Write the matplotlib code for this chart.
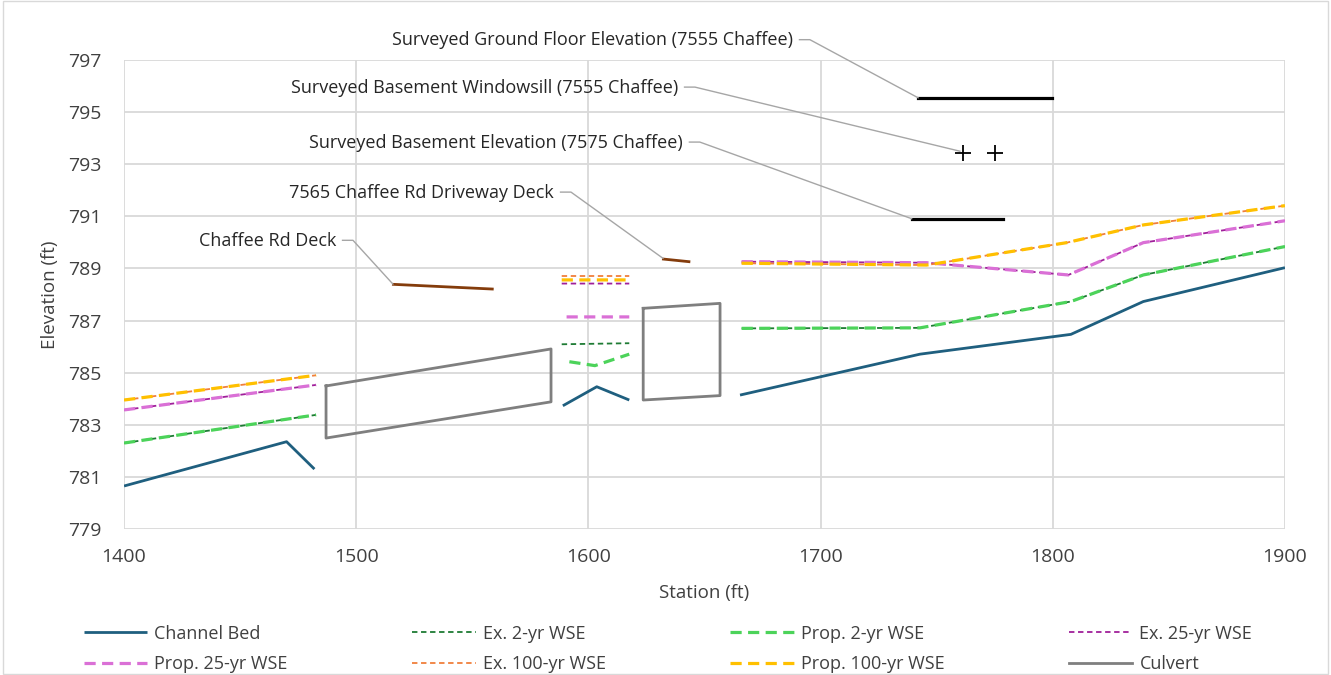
import numpy as np
import matplotlib
matplotlib.use("Agg")
import matplotlib.pyplot as plt
from matplotlib.patches import Rectangle

plt.rcParams['font.family'] = ['Open Sans', 'DejaVu Sans']

nan = np.nan

# perfil (estacao em ft, elevacao em ft); nan separa trechos
bed_sta = [1400, 1470, 1482, nan, 1589, 1603.6, 1617.6, nan, 1665.3, 1742.8, 1807.8, 1839, 1900]
bed_elev = [780.65, 782.35, 781.3, nan, 783.73, 784.46, 783.95, nan, 784.14, 785.71, 786.47, 787.73, 789.03]

p2_sta = [1400, 1482.7, nan, 1591.8, 1602.8, 1617.6, nan, 1666, 1742.8, 1807.8, 1839, 1900]
p2_elev = [782.3, 783.38, nan, 785.42, 785.27, 785.71, nan, 786.7, 786.72, 787.73, 788.75, 789.84]
e2_sta = [1400, 1482.7, nan, 1588.5, 1617.6, nan, 1666, 1742.8, 1807.8, 1839, 1900]
e2_elev = [782.3, 783.38, nan, 786.09, 786.13, nan, 786.7, 786.72, 787.73, 788.75, 789.84]

p25_sta = [1400, 1482.7, nan, 1590.6, 1617.6, nan, 1666, 1745.7, 1806.7, 1839, 1900]
p25_elev = [783.57, 784.53, nan, 787.14, 787.14, nan, 789.26, 789.22, 788.75, 789.99, 790.83]
e25_sta = [1400, 1482.7, nan, 1588.5, 1617.6, nan, 1666, 1745.7, 1806.7, 1839, 1900]
e25_elev = [783.57, 784.53, nan, 788.42, 788.42, nan, 789.26, 789.22, 788.75, 789.99, 790.83]

p100_sta = [1400, 1482.7, nan, 1588.5, 1617.6, nan, 1666, 1745.7, 1806, 1839, 1900]
p100_elev = [783.95, 784.9, nan, 788.56, 788.56, nan, 789.2, 789.13, 789.99, 790.67, 791.41]
e100_sta = [1400, 1482.7, nan, 1588.5, 1617.6, nan, 1666, 1745.7, 1806, 1839, 1900]
e100_elev = [783.95, 784.9, nan, 788.71, 788.71, nan, 789.2, 789.13, 789.99, 790.67, 791.41]

culv_sta = [1487, 1487, 1583.9, 1583.9, 1487, nan, 1623.6, 1623.6, 1656.7, 1656.7, 1623.6]
culv_elev = [784.49, 782.49, 783.88, 785.91, 784.49, nan, 787.47, 783.95, 784.12, 787.66, 787.47]

deck_sta = [1516, 1558.6]
deck_elev = [788.39, 788.21]
drive_sta = [1632.3, 1643.3]
drive_elev = [789.36, 789.26]

floor_sta = [1742, 1799.8]
floor_elev = [795.55, 795.55]
bsmt_sta = [1739.2, 1778.7]
bsmt_elev = [790.91, 790.91]
sill_sta = [1761.5, 1775.1]
sill_elev = [793.44, 793.44]

# rotulos: texto, posicao do texto, ponto final da linha guia
labels = [
    ("Surveyed Ground Floor Elevation (7555 Chaffee)", (1688.1, 797.75), (1742, 795.55)),
    ("Surveyed Basement Windowsill (7555 Chaffee)", (1638.6, 795.93), (1760, 793.5)),
    ("Surveyed Basement Elevation (7575 Chaffee)", (1640.7, 793.82), (1739.2, 790.91)),
    ("7565 Chaffee Rd Driveway Deck", (1585.2, 791.9), (1632.1, 789.39)),
    ("Chaffee Rd Deck", (1491.3, 790.05), (1515.8, 788.4)),
]

fig = plt.figure(figsize=(13.31, 6.75), dpi=100)
ax = fig.add_axes([0.0932, 0.2163, 0.8722, 0.6948])

ax.plot(bed_sta, bed_elev, color='#1F5F7F', lw=2.0, label="Channel Bed", solid_capstyle='butt')
ax.plot(e2_sta, e2_elev, color='#1E7B34', lw=1.3, dashes=(3, 2), label="Ex. 2-yr WSE")
ax.plot(p2_sta, p2_elev, color='#4CD35A', lw=2.3, dashes=(3.5, 2), label="Prop. 2-yr WSE")
ax.plot(e25_sta, e25_elev, color='#A0209A', lw=1.3, dashes=(3, 2), label="Ex. 25-yr WSE")
ax.plot(p25_sta, p25_elev, color='#DA70D6', lw=2.3, dashes=(3.5, 2), label="Prop. 25-yr WSE")
ax.plot(e100_sta, e100_elev, color='#F07F3C', lw=1.3, dashes=(3, 2), label="Ex. 100-yr WSE")
ax.plot(p100_sta, p100_elev, color='#FFC000', lw=2.3, dashes=(3.5, 2), label="Prop. 100-yr WSE")
ax.plot(culv_sta, culv_elev, color='#7F7F7F', lw=2.0, label="Culvert")

ax.plot(deck_sta, deck_elev, color='#843C0C', lw=2.0)
ax.plot(drive_sta, drive_elev, color='#843C0C', lw=2.0)
ax.plot(floor_sta, floor_elev, color='black', lw=2.3)
ax.plot(bsmt_sta, bsmt_elev, color='black', lw=2.3)
ax.plot(sill_sta, sill_elev, 'k+', ms=11, mew=1.3, ls='none')

for txt, (tx, ty), (ex, ey) in labels:
    ax.text(tx, ty, txt, ha='right', va='center', fontsize=13, color='#262626')
    ax.plot([tx + 2.8, tx + 7.3, ex], [ty + 0.03, ty + 0.03, ey], color='#A6A6A6', lw=1.0, clip_on=False)

ax.set_xlim(1400, 1900)
ax.set_ylim(779, 797)
ax.set_xticks(np.arange(1400, 1901, 100))
ax.set_yticks(np.arange(779, 798, 2))
ax.grid(True, color='#D9D9D9', lw=1.3)
ax.set_axisbelow(True)
for s in ax.spines.values():
    s.set_visible(False)
ax.tick_params(length=0, labelsize=14, labelcolor='#404040')
ax.tick_params(axis='x', pad=14)
ax.tick_params(axis='y', pad=16)
ax.set_xlabel("Station (ft)", fontsize=13.5, color='#404040', labelpad=13)
ax.set_ylabel("Elevation (ft)", fontsize=13.5, color='#404040', labelpad=7)

handles, labs = ax.get_legend_handles_labels()
order = [0, 4, 1, 5, 2, 6, 3, 7]
ax.legend([handles[i] for i in order], [labs[i] for i in order], ncol=4,
          loc='center', bbox_to_anchor=(0.502, 0.0385), bbox_transform=fig.transFigure,
          frameon=False, fontsize=13, handlelength=3.5, columnspacing=6.9,
          labelspacing=0.7, handletextpad=0.4, labelcolor='#404040')

fig.patches.append(Rectangle((0.002, 0.002), 0.996, 0.996, transform=fig.transFigure,
                             fill=False, edgecolor='#D9D9D9', lw=1.0))

fig.savefig("out.png", dpi=100)
plt.close(fig)
